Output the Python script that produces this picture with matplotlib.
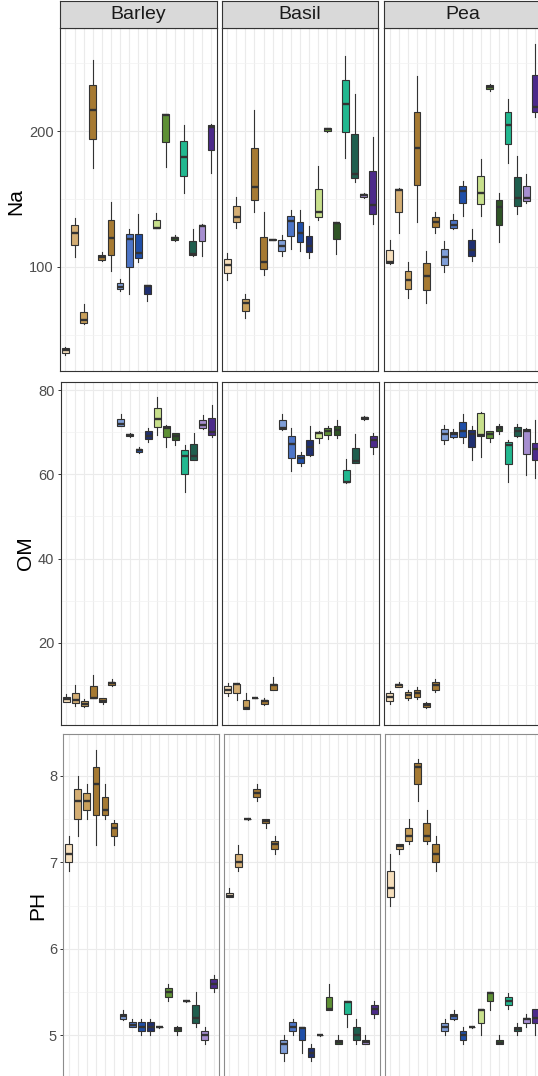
import matplotlib
matplotlib.use("Agg")
import matplotlib.pyplot as plt
from matplotlib.ticker import FixedLocator, NullFormatter

plt.rcParams['font.family'] = ['Liberation Sans', 'DejaVu Sans']

CROPS = ["Barley", "Basil", "Pea"]
TREATMENTS = [f"T{i}" for i in range(1, 18)]  # x labels are not shown in the chart
VARIABLES = ["Na", "OM", "PH"]

COLORS = ["#F6DFBC", "#D4AE74", "#C9A05C", "#A67A33", "#A67A33", "#A67A33",
          "#7F9ED8", "#4D75C7", "#1F4FA8", "#1F2F70", "#C8E08C", "#5E9035",
          "#2F5426", "#22B890", "#1F5E4E", "#A68ED0", "#4C2A8A"]

# each entry: (whisker low, Q1, median, Q3, whisker high)
NA_BARLEY = [(34.6, 36.5, 38.5, 40.2, 40.7), (107.1, 115.7, 125.2, 130.4, 135.8),
             (58.1, 58.6, 60.5, 66.7, 72.8), (172.5, 194.1, 215.4, 233.8, 252.2),
             (104.4, 104.9, 106.9, 108.3, 110.8), (97.0, 108.8, 120.8, 134.3, 148.0),
             (82.4, 83.6, 85.0, 87.7, 90.9), (80.1, 100.0, 120.1, 123.8, 127.7),
             (103.2, 106.4, 109.8, 124.3, 138.7), (75.0, 79.9, 86.0, 86.3, 86.5),
             (128.5, 128.7, 128.9, 134.3, 139.5), (173.8, 192.2, 211.8, 212.3, 212.5),
             (118.9, 119.4, 120.8, 121.8, 123.5), (154.2, 167.2, 180.9, 192.6, 204.4),
             (108.1, 108.8, 109.3, 119.1, 127.7), (108.1, 118.6, 129.7, 130.6, 131.4),
             (168.9, 186.0, 203.2, 204.4, 205.1)]
NA_BASIL = [(90.0, 95.3, 101.0, 105.6, 110.0), (128.9, 132.8, 136.8, 144.4, 151.7),
            (62.3, 67.6, 73.0, 76.2, 79.9), (140.0, 149.3, 159.1, 187.3, 215.4),
            (94.1, 98.5, 103.2, 121.8, 140.7), (119.5, 119.8, 120.0, 120.2, 120.5),
            (108.1, 111.8, 115.0, 119.4, 123.5), (113.0, 123.0, 133.8, 137.7, 141.9),
            (111.3, 118.1, 125.2, 133.3, 141.7), (106.4, 110.5, 115.0, 122.3, 129.7),
            (134.1, 137.0, 140.0, 157.1, 174.5), (199.0, 200.0, 201.2, 202.0, 202.5),
            (109.3, 120.3, 131.9, 132.4, 132.6), (179.9, 199.5, 219.6, 237.5, 255.1),
            (162.3, 165.4, 168.4, 198.0, 227.2), (151.0, 151.5, 152.5, 153.4, 154.2),
            (131.4, 138.5, 145.8, 170.6, 195.3)]
NA_PEA = [(102.2, 102.7, 103.4, 112.0, 119.9), (124.8, 140.7, 156.6, 157.6, 157.8),
          (77.0, 83.6, 90.5, 97.1, 103.7), (132.8, 160.3, 187.7, 214.2, 240.4),
          (73.3, 83.1, 93.0, 102.7, 111.8), (125.2, 129.2, 132.8, 136.5, 140.7),
          (96.1, 101.5, 106.9, 113.0, 118.6), (128.0, 128.9, 130.9, 134.1, 138.7),
          (137.7, 146.8, 155.9, 159.6, 163.5), (103.9, 107.6, 112.0, 119.9, 127.7),
          (137.7, 146.3, 154.7, 167.2, 179.4), (229.7, 230.9, 232.6, 234.1, 235.0),
          (117.9, 130.6, 143.9, 149.3, 154.7), (176.7, 190.7, 204.4, 214.2, 223.3),
          (139.0, 144.9, 151.0, 166.4, 181.6), (146.8, 148.8, 151.0, 159.8, 168.4),
          (210.5, 214.2, 217.9, 241.2, 264.5)]

OM_BARLEY = [(5.9, 6.0, 6.6, 7.2, 7.8), (5.0, 5.7, 6.4, 8.2, 10.1), (4.8, 5.0, 5.5, 6.1, 6.6),
             (6.8, 6.9, 7.0, 9.7, 12.3), (5.5, 5.9, 6.3, 6.8, 7.0), (9.8, 9.9, 10.4, 10.8, 11.4),
             (71.4, 71.5, 72.0, 73.2, 74.4), (68.8, 69.0, 69.4, 69.6, 69.8),
             (65.0, 65.2, 65.8, 66.1, 66.6), (67.6, 68.3, 69.2, 70.3, 71.0),
             (69.4, 71.2, 73.2, 75.7, 78.3), (66.5, 68.8, 71.1, 71.5, 71.8),
             (67.0, 68.1, 69.1, 69.8, 69.9), (55.9, 60.1, 64.4, 65.7, 66.9),
             (63.3, 63.5, 64.4, 67.1, 69.8), (70.8, 71.1, 71.8, 73.0, 74.1),
             (68.9, 69.4, 70.0, 73.3, 76.5)]
OM_BASIL = [(7.3, 8.0, 8.9, 9.8, 10.5), (6.4, 8.2, 10.2, 10.3, 10.5), (4.2, 4.4, 4.45, 6.5, 8.2),
            (6.85, 6.9, 6.95, 7.0, 7.05), (5.3, 5.5, 6.1, 6.5, 6.8), (8.8, 8.8, 10.1, 10.3, 11.8),
            (70.6, 70.8, 71.1, 72.8, 74.3), (60.7, 63.8, 67.2, 69.1, 71.0),
            (62.1, 62.8, 63.8, 64.6, 65.4), (64.4, 64.6, 66.4, 68.2, 71.4),
            (67.4, 68.6, 69.8, 70.0, 70.2), (68.4, 69.4, 70.4, 71.1, 71.5),
            (68.6, 69.4, 70.6, 71.6, 72.8), (58.0, 58.1, 58.3, 61.1, 63.6),
            (62.6, 62.8, 63.1, 66.2, 69.5), (72.9, 73.1, 73.5, 73.7, 73.9),
            (64.8, 66.4, 68.2, 69.0, 69.8)]
OM_PEA = [(5.4, 6.2, 7.1, 8.0, 8.6), (9.4, 9.5, 9.9, 10.3, 10.6), (6.4, 6.8, 7.6, 8.3, 8.9),
          (6.6, 7.2, 8.0, 8.9, 9.5), (4.6, 4.7, 5.2, 5.7, 5.9), (8.3, 8.9, 9.9, 10.7, 11.5),
          (67.2, 68.2, 69.5, 70.7, 71.8), (68.7, 68.8, 69.5, 70.0, 70.8),
          (67.4, 68.8, 70.3, 72.4, 74.3), (63.5, 66.4, 69.5, 70.6, 71.4),
          (64.2, 69.2, 69.4, 74.6, 74.8), (67.6, 68.6, 69.6, 70.2, 70.4),
          (69.6, 70.2, 71.0, 71.5, 71.9), (58.3, 62.5, 67.0, 67.6, 68.2),
          (68.9, 69.2, 70.2, 71.2, 71.9), (59.9, 64.8, 70.2, 70.7, 71.1),
          (59.1, 63.5, 66.0, 67.4, 73.0)]

PH_BARLEY = [(6.90, 7.00, 7.10, 7.21, 7.30), (7.30, 7.50, 7.71, 7.85, 8.00),
             (7.50, 7.60, 7.71, 7.80, 7.90), (7.20, 7.55, 7.91, 8.10, 8.30),
             (7.50, 7.55, 7.60, 7.76, 7.90), (7.20, 7.30, 7.40, 7.45, 7.49),
             (5.18, 5.19, 5.22, 5.25, 5.29), (5.10, 5.10, 5.12, 5.15, 5.19),
             (5.00, 5.05, 5.10, 5.15, 5.19), (5.00, 5.05, 5.10, 5.15, 5.19),
             (5.09, 5.10, 5.10, 5.10, 5.11), (5.40, 5.45, 5.50, 5.55, 5.60),
             (5.00, 5.05, 5.08, 5.10, 5.11), (5.39, 5.40, 5.40, 5.40, 5.41),
             (5.10, 5.14, 5.20, 5.35, 5.50), (4.90, 4.95, 5.00, 5.05, 5.10),
             (5.50, 5.55, 5.60, 5.65, 5.70)]
PH_BASIL = [(6.60, 6.60, 6.61, 6.65, 6.70), (6.90, 6.95, 7.00, 7.10, 7.20),
            (7.49, 7.50, 7.50, 7.50, 7.51), (7.71, 7.76, 7.80, 7.85, 7.90),
            (7.40, 7.45, 7.48, 7.50, 7.50), (7.10, 7.15, 7.21, 7.25, 7.30),
            (4.70, 4.80, 4.90, 4.95, 5.00), (5.00, 5.05, 5.10, 5.15, 5.19),
            (4.80, 4.95, 5.09, 5.10, 5.10), (4.70, 4.75, 4.80, 4.85, 4.90),
            (4.99, 5.00, 5.00, 5.00, 5.01), (5.29, 5.29, 5.30, 5.45, 5.60),
            (4.90, 4.90, 4.92, 4.95, 5.00), (5.10, 5.25, 5.39, 5.40, 5.40),
            (4.90, 4.95, 5.00, 5.10, 5.19), (4.90, 4.90, 4.92, 4.95, 5.00),
            (5.20, 5.25, 5.30, 5.35, 5.40)]
PH_PEA = [(6.50, 6.60, 6.70, 6.90, 7.10), (7.10, 7.15, 7.19, 7.21, 7.21),
          (7.21, 7.25, 7.30, 7.40, 7.50), (7.71, 7.90, 8.10, 8.15, 8.20),
          (7.21, 7.25, 7.30, 7.45, 7.60), (6.90, 7.00, 7.10, 7.21, 7.30),
          (5.00, 5.05, 5.10, 5.14, 5.19), (5.18, 5.19, 5.22, 5.25, 5.29),
          (4.90, 4.95, 5.00, 5.05, 5.10), (5.09, 5.10, 5.10, 5.10, 5.11),
          (5.00, 5.14, 5.29, 5.30, 5.30), (5.29, 5.40, 5.49, 5.50, 5.50),
          (4.90, 4.90, 4.91, 4.95, 5.00), (5.30, 5.35, 5.40, 5.45, 5.49),
          (5.00, 5.05, 5.08, 5.10, 5.14), (5.10, 5.14, 5.19, 5.20, 5.25),
          (5.00, 5.14, 5.20, 5.30, 5.30)]

Y_MAJOR = {"Na": [100, 200], "OM": [20, 40, 60, 80], "PH": [5, 6, 7, 8]}
Y_MINOR = {"Na": [50, 150, 250], "OM": [10, 30, 50, 70], "PH": [5.5, 6.5, 7.5]}

DATA = {"Na": [NA_BARLEY, NA_BASIL, NA_PEA],
        "OM": [OM_BARLEY, OM_BASIL, OM_PEA],
        "PH": [PH_BARLEY, PH_BASIL, PH_PEA]}

# ---------------- layout (pixels) ----------------
W, H = 538, 1076
fig = plt.figure(figsize=(W / 100, H / 100), dpi=100)


def px_axes(x0, y0, w, h):
    return fig.add_axes([x0 / W, 1 - (y0 + h) / H, w / W, h / H])


LAYOUT = {
    "Na": dict(top=28, h=343, lefts=[60, 221.7, 384.3], w=156.5, spine="#333333", lab=(16, 202)),
    "OM": dict(top=381.7, h=343.3, lefts=[60.7, 222.3, 384.3], w=156.6, spine="#333333", lab=(25, 553)),
    "PH": dict(top=734.3, h=342.7, lefts=[63.3, 224.0, 385.0], w=155.8, spine="#8c8c8c", lab=(37.5, 905)),
}

positions = list(range(1, len(TREATMENTS) + 1))

for var in VARIABLES:
    L = LAYOUT[var]
    allvals = [v for crop in DATA[var] for box in crop for v in box]
    lo, hi = min(allvals), max(allvals)
    pad = 0.05 * (hi - lo)
    for ci, crop in enumerate(CROPS):
        ax = px_axes(L["lefts"][ci], L["top"], L["w"], L["h"])
        stats = []
        for t, (wl, q1, md, q3, wh) in zip(TREATMENTS, DATA[var][ci]):
            stats.append(dict(label=t, whislo=wl, q1=q1, med=md, q3=q3, whishi=wh, fliers=[]))
        bp = ax.bxp(stats, positions=positions, widths=0.75, patch_artist=True,
                    showfliers=False, showcaps=False,
                    boxprops=dict(edgecolor="#333333", linewidth=0.8),
                    whiskerprops=dict(color="#333333", linewidth=0.8),
                    medianprops=dict(color="#333333", linewidth=1.7, solid_capstyle="butt"))
        for patch, col in zip(bp["boxes"], COLORS):
            patch.set_facecolor(col)
        for art in bp["boxes"] + bp["whiskers"] + bp["medians"]:
            art.set_zorder(3)
        ax.set_xlim(0.4, len(TREATMENTS) + 0.6)
        ax.set_ylim(lo - pad, hi + pad)
        ax.set_xticks(positions)
        ax.set_xticklabels([])
        ax.yaxis.set_major_locator(FixedLocator(Y_MAJOR[var]))
        ax.yaxis.set_minor_locator(FixedLocator(Y_MINOR[var]))
        ax.yaxis.set_minor_formatter(NullFormatter())
        ax.grid(True, which="major", color="#EBEBEB", linewidth=0.8, zorder=0)
        ax.grid(True, which="minor", axis="y", color="#F2F2F2", linewidth=0.5, zorder=0)
        ax.set_axisbelow(True)
        ax.tick_params(axis="x", which="both", length=0, labelbottom=False)
        ax.tick_params(axis="y", which="minor", length=0)
        if ci == 0:
            ax.tick_params(axis="y", which="major", length=2.5, width=0.7, color="#333333",
                           labelsize=10.5, labelcolor="#4D4D4D", pad=2)
        else:
            ax.tick_params(axis="y", which="major", length=0, labelleft=False)
        for s in ax.spines.values():
            s.set_color(L["spine"])
            s.set_linewidth(0.8)
        ax.set_facecolor("white")

        if var == "Na":
            sax = px_axes(L["lefts"][ci], 1, L["w"], 27)
            sax.set_facecolor("#D9D9D9")
            sax.set_xticks([])
            sax.set_yticks([])
            for s in sax.spines.values():
                s.set_color("#333333")
                s.set_linewidth(0.8)
            sax.text(0.5, 0.5, crop, ha="center", va="center", fontsize=14,
                     color="#1A1A1A", transform=sax.transAxes)

    fig.text(L["lab"][0] / W, 1 - L["lab"][1] / H, var, rotation=90, ha="center",
             va="center", fontsize=15, color="black")

fig.savefig("out.png", dpi=100)
